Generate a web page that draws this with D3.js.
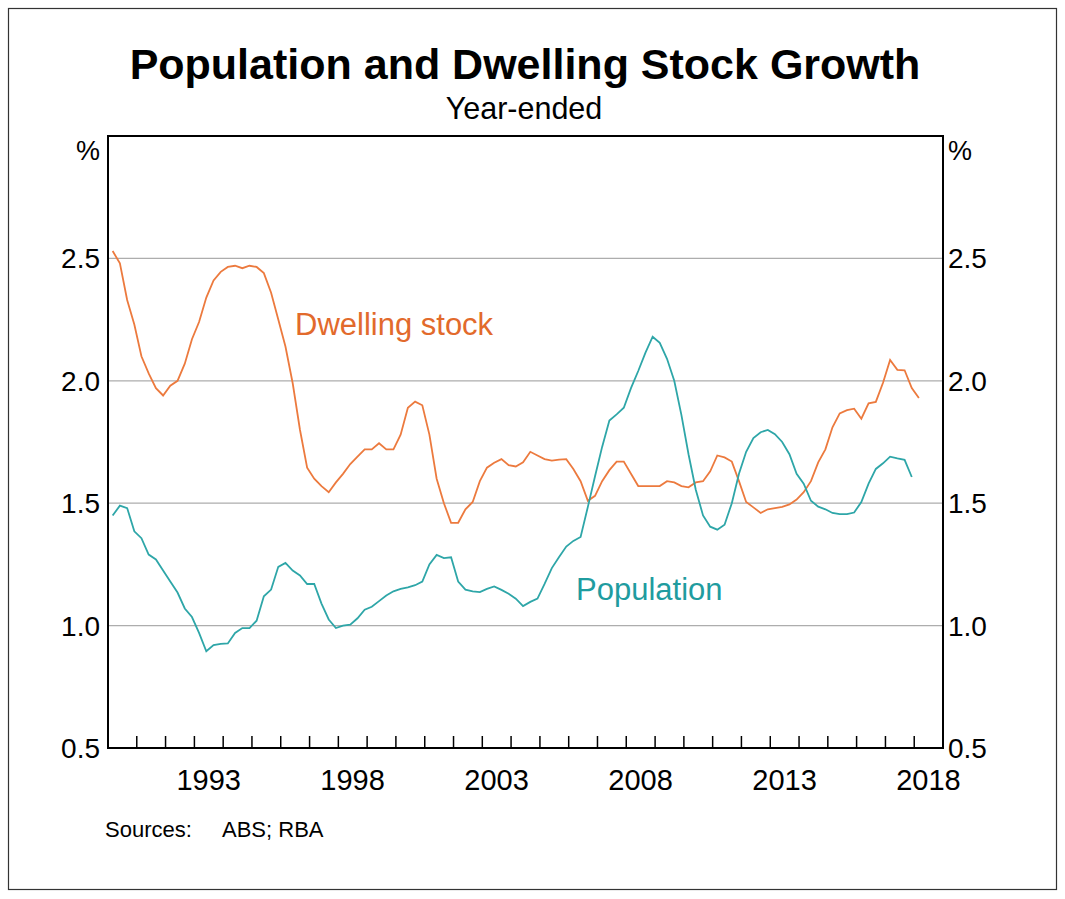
<!DOCTYPE html>
<html>

<head>
  <meta charset="utf-8">
  <script src="https://d3js.org/d3.v7.min.js"></script>
  <style>
    body { margin: 0; background: #fff; }
    svg { font-family: "Liberation Sans", Arial, sans-serif; }
  </style>
</head>

<body>
  <svg width="1065" height="899"></svg>
  <script>
    // quarterly data, first point = 1990 Q1 (year-ended % growth)
    const startYear = 1990;
    const dwelling = [
      2.53, 2.48, 2.33, 2.23, 2.10, 2.03, 1.97, 1.94, 1.98, 2.00,
      2.07, 2.17, 2.24, 2.34, 2.41, 2.445, 2.465, 2.47, 2.46, 2.47,
      2.465, 2.44, 2.36, 2.25, 2.14, 1.99, 1.80, 1.645, 1.60, 1.57,
      1.545, 1.585, 1.62, 1.66, 1.69, 1.72, 1.72, 1.745, 1.72, 1.72,
      1.78, 1.89, 1.915, 1.90, 1.78, 1.60, 1.50, 1.42, 1.42, 1.475,
      1.505, 1.59, 1.645, 1.665, 1.68, 1.655, 1.65, 1.667, 1.71, 1.695,
      1.68, 1.674, 1.678, 1.68, 1.64, 1.59, 1.51, 1.53, 1.59, 1.635,
      1.67, 1.67, 1.62, 1.57, 1.57, 1.57, 1.57, 1.59, 1.585, 1.57,
      1.565, 1.585, 1.59, 1.63, 1.695, 1.687, 1.67, 1.59, 1.505, 1.483,
      1.46, 1.475, 1.48, 1.485, 1.495, 1.515, 1.545, 1.59, 1.667, 1.72,
      1.81, 1.867, 1.88, 1.886, 1.845, 1.908, 1.914, 1.992, 2.085, 2.045,
      2.043, 1.97, 1.93
    ];
    const population = [
      1.45, 1.49, 1.48, 1.385, 1.357, 1.29, 1.27, 1.225, 1.18, 1.135,
      1.07, 1.035, 0.97, 0.895, 0.92, 0.925, 0.927, 0.97, 0.99, 0.99,
      1.02, 1.12, 1.147, 1.24, 1.256, 1.225, 1.205, 1.17, 1.17, 1.09,
      1.025, 0.99, 1.00, 1.004, 1.03, 1.065, 1.077, 1.10, 1.123, 1.14,
      1.15, 1.156, 1.165, 1.18, 1.25, 1.289, 1.276, 1.279, 1.18, 1.147,
      1.14, 1.137, 1.15, 1.16, 1.146, 1.13, 1.11, 1.08, 1.097, 1.11,
      1.17, 1.235, 1.28, 1.323, 1.346, 1.362, 1.485, 1.61, 1.73, 1.838,
      1.863, 1.89, 1.97, 2.04, 2.115, 2.18, 2.155, 2.09, 2.00, 1.86,
      1.70, 1.555, 1.45, 1.404, 1.392, 1.412, 1.50, 1.62, 1.71, 1.766,
      1.79, 1.799, 1.782, 1.75, 1.70, 1.62, 1.58, 1.51, 1.486, 1.475,
      1.46, 1.455, 1.455, 1.462, 1.505, 1.58, 1.64, 1.663, 1.69, 1.683,
      1.677, 1.607
    ];
    const yTicks = [0.5, 1.0, 1.5, 2.0, 2.5];
    const yearLabels = [1993, 1998, 2003, 2008, 2013, 2018];

    const svg = d3.select("svg");
    const m = { left: 108, right: 943, top: 136, bottom: 748 };

    // outer frame
    svg.append("rect")
      .attr("x", 8.5).attr("y", 8.5)
      .attr("width", 1048).attr("height", 881)
      .attr("fill", "none").attr("stroke", "#333").attr("stroke-width", 1.2);

    const x = d3.scaleTime()
      .domain([new Date(startYear, 0, 1), new Date(2019, 0, 1)])
      .range([m.left, m.right]);
    const y = d3.scaleLinear().domain([0.5, 3.0]).range([m.bottom, m.top]);

    const qDate = i => new Date(startYear + Math.floor(i / 4), (i % 4) * 3 + 2, 1);

    // gridlines
    svg.append("g")
      .selectAll("line")
      .data(yTicks.filter(v => v > 0.5))
      .join("line")
      .attr("x1", m.left).attr("x2", m.right)
      .attr("y1", d => y(d)).attr("y2", d => y(d))
      .attr("stroke", "#adadad").attr("stroke-width", 1.3);

    // lines
    const line = d3.line()
      .x((d, i) => x(qDate(i)))
      .y(d => y(d));

    svg.append("path")
      .datum(dwelling)
      .attr("d", line)
      .attr("fill", "none")
      .attr("stroke", "#ec7a3e")
      .attr("stroke-width", 1.8);

    svg.append("path")
      .datum(population)
      .attr("d", line)
      .attr("fill", "none")
      .attr("stroke", "#2ea6a8")
      .attr("stroke-width", 1.8);

    // plot frame
    svg.append("rect")
      .attr("x", m.left).attr("y", m.top)
      .attr("width", m.right - m.left).attr("height", m.bottom - m.top)
      .attr("fill", "none").attr("stroke", "#000").attr("stroke-width", 2);

    // year ticks (inside, at year boundaries)
    const years = d3.range(startYear + 1, 2019);
    svg.append("g")
      .selectAll("line")
      .data(years)
      .join("line")
      .attr("x1", d => x(new Date(d, 0, 1))).attr("x2", d => x(new Date(d, 0, 1)))
      .attr("y1", m.bottom).attr("y2", m.bottom - 12)
      .attr("stroke", "#000").attr("stroke-width", 1.5);

    // year labels, centred in the year
    svg.append("g")
      .selectAll("text")
      .data(yearLabels)
      .join("text")
      .attr("x", d => x(new Date(d, 6, 1)))
      .attr("y", 790)
      .attr("text-anchor", "middle")
      .attr("font-size", 29)
      .text(d => d);

    // y labels both sides
    const fmt = d3.format(".1f");
    svg.append("g")
      .selectAll("text")
      .data(yTicks)
      .join("text")
      .attr("x", 100).attr("y", d => y(d) + 10)
      .attr("text-anchor", "end")
      .attr("font-size", 28)
      .text(fmt);
    svg.append("g")
      .selectAll("text")
      .data(yTicks)
      .join("text")
      .attr("x", 948).attr("y", d => y(d) + 10)
      .attr("font-size", 28)
      .text(fmt);

    svg.append("text").attr("x", 100).attr("y", 160)
      .attr("text-anchor", "end").attr("font-size", 27).text("%");
    svg.append("text").attr("x", 948).attr("y", 160)
      .attr("font-size", 27).text("%");

    // titles
    svg.append("text")
      .attr("x", 525).attr("y", 79)
      .attr("text-anchor", "middle")
      .attr("font-size", 43).attr("font-weight", "bold")
      .text("Population and Dwelling Stock Growth");
    svg.append("text")
      .attr("x", 524).attr("y", 119)
      .attr("text-anchor", "middle")
      .attr("font-size", 30.5)
      .text("Year-ended");

    // series labels
    svg.append("text")
      .attr("x", 295).attr("y", 335)
      .attr("font-size", 31).attr("fill", "#e26a2c")
      .text("Dwelling stock");
    svg.append("text")
      .attr("x", 576).attr("y", 600)
      .attr("font-size", 31).attr("fill", "#1f9c9f")
      .text("Population");

    // sources
    svg.append("text")
      .attr("x", 105).attr("y", 837)
      .attr("font-size", 22)
      .text("Sources:");
    svg.append("text")
      .attr("x", 222).attr("y", 837)
      .attr("font-size", 22)
      .text("ABS; RBA");
  </script>

</body>

</html>
